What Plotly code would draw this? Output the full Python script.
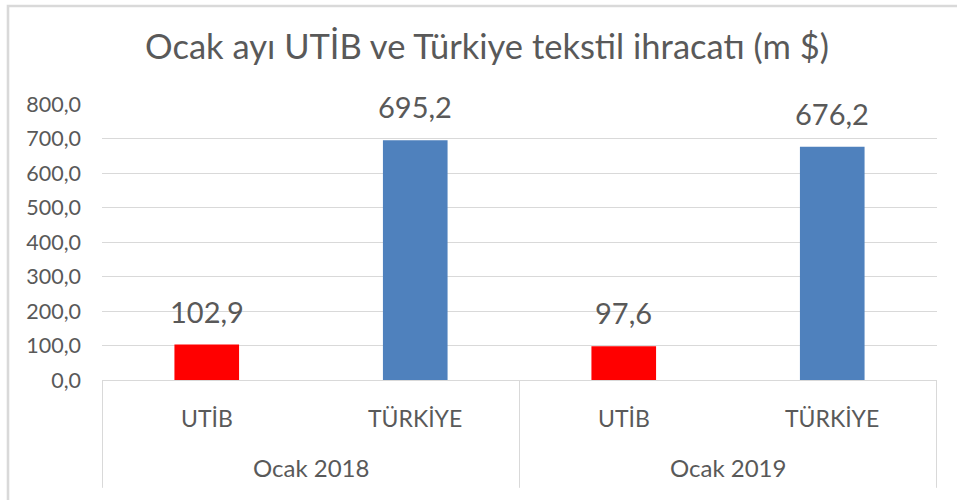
import plotly.graph_objects as go

groups = ["Ocak 2018", "Ocak 2018", "Ocak 2019", "Ocak 2019"]
categories = ["UTİB", "TÜRKİYE", "UTİB", "TÜRKİYE"]
values = [102.9, 695.2, 97.6, 676.2]
bar_colors = ["#FF0000", "#4F81BD", "#FF0000", "#4F81BD"]
y_ticks = [0, 100, 200, 300, 400, 500, 600, 700, 800]
title_text = "Ocak ayı UTİB ve Türkiye tekstil ihracatı (m $)"
group_names = ["Ocak 2018", "Ocak 2019"]

FONT = "Lato"
GRAY = "#595959"
GRID = "#D9D9D9"

PLOT_H = 276.5
PLOT_W = 835

fig = go.Figure()
fig.add_trace(go.Bar(
    x=[groups, categories],
    y=values,
    marker=dict(color=bar_colors, line=dict(width=0)),
    width=0.31,
    showlegend=False,
    hoverinfo="skip",
))

# data labels
for i, v in enumerate(values):
    fig.add_annotation(
        x=i, y=v, xref="x", yref="y",
        text=f"{v:.1f}".replace(".", ","),
        showarrow=False, yanchor="bottom", yshift=14,
        font=dict(family=FONT, size=29, color=GRAY),
    )

# category labels (first level)
for i, c in enumerate(categories):
    fig.add_annotation(
        x=i, y=0, xref="x", yref="paper",
        text=c, showarrow=False, yanchor="middle", yshift=-38,
        font=dict(family=FONT, size=23, color=GRAY),
    )

# group labels (second level) and dividers
for g, name in enumerate(group_names):
    idx = [i for i, gg in enumerate(groups) if gg == name]
    center = sum(idx) / len(idx)
    fig.add_annotation(
        x=center, y=0, xref="x", yref="paper",
        text=name, showarrow=False, yanchor="middle", yshift=-87,
        font=dict(family=FONT, size=24, color=GRAY),
    )
boundaries = [-0.5] + [len(values) * (g + 1) / len(group_names) - 0.5 for g in range(len(group_names))]
for b in boundaries:
    fig.add_shape(type="line", xref="x", yref="paper",
                  x0=b, x1=b, y0=0, y1=-108 / PLOT_H,
                  line=dict(color=GRID, width=1))

fig.update_layout(
    width=957, height=500,
    margin=dict(l=102, r=20, t=103.5, b=120, pad=0),
    paper_bgcolor="white", plot_bgcolor="white",
    separators=",.",
    title=dict(text=title_text, x=(487 - 102) / PLOT_W, xref="paper", xanchor="center",
               y=1 - 47 / 500, yref="container", yanchor="middle",
               font=dict(family=FONT, size=34.5, color=GRAY)),
    font=dict(family=FONT, color=GRAY),
)
fig.update_yaxes(
    range=[0, 800], tickvals=y_ticks, tickformat=".1f",
    showgrid=True, gridcolor=GRID, gridwidth=1,
    zeroline=False, showline=False, ticks="",
    tickfont=dict(family=FONT, size=21.5, color=GRAY),
    ticklabelstandoff=20,
)
fig.update_xaxes(
    type="multicategory",
    showline=True, linecolor=GRID, linewidth=1,
    showdividers=False, showticklabels=False,
    ticks="", showgrid=False,
)

# outer chart border (top and left edges visible in the frame)
fig.add_shape(type="rect", xref="paper", yref="paper",
              x0=(8 - 102) / PLOT_W, x1=(975 - 102) / PLOT_W,
              y0=-0.6, y1=(380 - 5.3) / PLOT_H,
              line=dict(color="#D9D9D9", width=2.6), fillcolor="rgba(0,0,0,0)")

fig.write_html("out.html", config={"displayModeBar": False},
               post_script="document.body.style.margin='0';")
